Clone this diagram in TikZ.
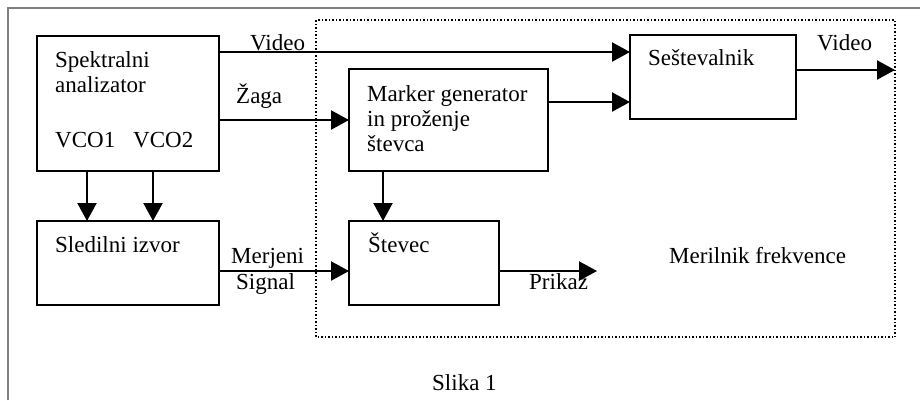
\documentclass[tikz,border=0pt]{standalone}
\usepackage{fontspec}
\setmainfont{Liberation Serif}
\usetikzlibrary{arrows.meta}
\begin{document}
\begin{tikzpicture}[x=1pt,y=-1pt,
  blok/.style={draw, line width=2.4pt, minimum width=#1, inner sep=0pt, outer sep=0pt},
  txt/.style={anchor=base west, inner sep=0pt, font=\fontsize{23}{27}\selectfont},
  arr/.style={line width=2.2pt, -{Triangle[length=18pt,width=19pt]}},
  ln/.style={line width=2pt}]
\useasboundingbox (0,0) rectangle (920,400);
% outer frame
\draw[gray, line width=2pt] (8,400) -- (8,8) -- (920,8);
% dotted region
\draw[dotted, line width=1.5pt] (316,20) rectangle (895,337);
% boxes
\node[blok=182pt, minimum height=135pt] (spek) at (128,103.5) {};
\node[blok=166pt, minimum height=84pt] (sest) at (713,77) {};
\node[blok=199pt, minimum height=102pt] (mark) at (448.5,120) {};
\node[blok=182pt, minimum height=84pt] (sled) at (128,263) {};
\node[blok=150pt, minimum height=84pt] (stev) at (424,263) {};
% texts in boxes
\node[txt] (t1) at (55,67) {Spektralni};
\node[txt] (t2) at (55,92) {analizator};
\node[txt] (t3) at (55,147) {VCO1};
\node[txt] (t4) at (133,147) {VCO2};
\node[txt] (t5) at (648,65) {Seštevalnik};
\node[txt] (t6) at (367,101) {Marker generator};
\node[txt] (t7) at (367,126) {in proženje};
\node[txt] (t8) at (367,151) {števca};
\node[txt] (t9) at (55,252) {Sledilni izvor};
\node[txt] (t10) at (368,252) {Števec};
% labels
\node[txt] (lv1) at (250,50) {Video};
\node[txt] (lv2) at (817,50) {Video};
\node[txt] (lz) at (236,103) {Žaga};
\node[txt] (lm) at (231,263) {Merjeni};
\node[txt] (ls) at (236,289) {Signal};
\node[txt] (lp) at (529,289) {Prikaz};
\node[txt] (lf) at (669,263) {Merilnik frekvence};
\node[txt] (cap) at (432,390) {Slika 1};
% free ends
\coordinate (vout) at (895,70);
\coordinate (pout) at (597,271);
% connectors
\draw[arr] (spek.east |- 0,52) -- (sest.west |- 0,52);
\draw[arr] (spek.east |- mark.west) -- (mark.west);
\draw[arr] (mark.east |- 0,102) -- (sest.west |- 0,102);
\draw[arr] (sest.east |- vout) -- (vout);
\draw[arr] (spek.south -| 87,0) -- (sled.north -| 87,0);
\draw[arr] (spek.south -| 153,0) -- (sled.north -| 153,0);
\draw[arr] (mark.south -| 383,0) -- (stev.north -| 383,0);
\draw[arr] (sled.east |- 0,271) -- (stev.west |- 0,271);
\draw[arr] (stev.east |- pout) -- (pout);
\end{tikzpicture}
\end{document}
